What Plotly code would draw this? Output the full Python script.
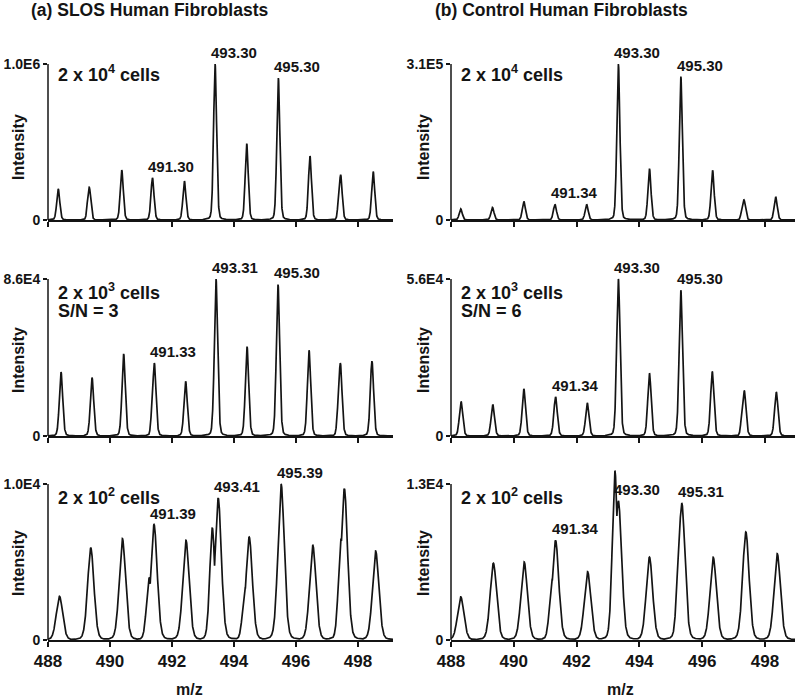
import numpy as np
import plotly.graph_objects as go

W, H = 800, 699

# ---------------- data ----------------
# peak centroids (m/z, as located on the drawn axis) and peak intensities
MZ_A1 = [488.33, 489.33, 490.38, 491.37, 492.40, 493.39, 494.41, 495.43, 496.45, 497.44, 498.49]
INT_A1 = [2.0e5, 2.1e5, 3.2e5, 2.7e5, 2.5e5, 1.0e6, 4.9e5, 9.1e5, 4.1e5, 2.9e5, 3.1e5]

MZ_A2 = [488.42, 489.42, 490.44, 491.43, 492.44, 493.42, 494.42, 495.42, 496.42, 497.43, 498.45]
INT_A2 = [3.5e4, 3.2e4, 4.5e4, 4.0e4, 3.0e4, 8.6e4, 4.9e4, 8.3e4, 4.7e4, 4.0e4, 4.1e4]

MZ_A3 = [488.37, 489.38, 490.40, 491.42, 492.45, 493.49, 494.49, 495.52, 496.54, 497.56, 498.57]
INT_A3 = [2.8e3, 5.9e3, 6.5e3, 7.4e3, 6.4e3, 9.1e3, 6.6e3, 1.0e4, 6.1e3, 9.7e3, 5.7e3]

MZ_B1 = [488.31, 489.32, 490.32, 491.31, 492.32, 493.33, 494.32, 495.32, 496.33, 497.33, 498.34]
INT_B1 = [2.2e4, 2.5e4, 3.7e4, 3.1e4, 3.1e4, 3.1e5, 1.02e5, 2.85e5, 9.9e4, 4.0e4, 4.6e4]

MZ_B2 = [488.32, 489.33, 490.32, 491.33, 492.34, 493.33, 494.32, 495.32, 496.32, 497.34, 498.36]
INT_B2 = [1.23e4, 1.12e4, 1.68e4, 1.40e4, 1.18e4, 5.6e4, 2.24e4, 5.2e4, 2.3e4, 1.62e4, 1.57e4]

MZ_B3 = [488.31, 489.35, 490.33, 491.33, 492.35, 493.33, 494.32, 495.35, 496.35, 497.39, 498.39]
INT_B3 = [3.6e3, 6.4e3, 6.5e3, 8.3e3, 5.7e3, 1.16e4, 6.9e3, 1.14e4, 6.9e3, 9.0e3, 7.2e3]

# secondary maxima / shoulders seen on some peaks (m/z, intensity)
SH_A1_MZ = [489.30, 497.40]
SH_A1_INT = [1.7e5, 2.5e5]
SH_A2_MZ = [491.37, 493.36, 494.37, 497.37]
SH_A2_INT = [1.9e4, 2.7e4, 1.3e4, 2.0e4]
SH_A3_MZ = [488.30, 491.26, 493.30, 494.36, 497.45]
SH_A3_INT = [1.6e3, 4.0e3, 7.2e3, 3.3e3, 6.5e3]
SH_B1_MZ = [497.28]
SH_B1_INT = [2.8e4]
SH_B2_MZ = [493.27, 497.28]
SH_B2_INT = [1.3e4, 1.0e4]
SH_B3_MZ = [491.22, 493.22, 493.38, 495.28, 494.25]
SH_B3_INT = [5.0e3, 1.41e4, 9.5e3, 8.5e3, 3.8e3]

TOPS_A = [1.0e6, 8.6e4, 1.0e4]
TOPS_B = [3.1e5, 5.6e4, 1.3e4]
TOP_TEXT_A = ["1.0E6", "8.6E4", "1.0E4"]
TOP_TEXT_B = ["3.1E5", "5.6E4", "1.3E4"]

LABEL_IDX = [3, 5, 7]
LABELS_A = [["491.30", "493.30", "495.30"], ["491.33", "493.31", "495.30"], ["491.39", "493.41", "495.39"]]
LABELS_B = [["491.34", "493.30", "495.30"], ["491.34", "493.30", "495.30"], ["491.34", "493.30", "495.31"]]

CELLS = ["4", "3", "2"]
SN_A = [None, "S/N = 3", None]
SN_B = [None, "S/N = 6", None]

X_TICKS = [488, 490, 492, 494, 496, 498]

# ---------------- layout geometry (pixels) ----------------
COL_X = [(48, 393, 31.0), (451, 795, 31.4)]  # left px, right px, px per m/z unit
ROW_Y = [(64, 220), (279, 436), (484, 640)]    # top-value px, zero px
EXT = 1.15
SIGMA = [0.05, 0.055, 0.105]

FONT = "Liberation Sans, Arial, sans-serif"
INK = "#141414"

panels = {
    (0, 0): (MZ_A1, INT_A1, SH_A1_MZ, SH_A1_INT),
    (1, 0): (MZ_A2, INT_A2, SH_A2_MZ, SH_A2_INT),
    (2, 0): (MZ_A3, INT_A3, SH_A3_MZ, SH_A3_INT),
    (0, 1): (MZ_B1, INT_B1, SH_B1_MZ, SH_B1_INT),
    (1, 1): (MZ_B2, INT_B2, SH_B2_MZ, SH_B2_INT),
    (2, 1): (MZ_B3, INT_B3, SH_B3_MZ, SH_B3_INT),
}

grid = np.arange(488.0, 499.2, 0.003)


def profile(centers, heights, s):
    y = np.zeros_like(grid)
    for c, h in zip(centers, heights):
        d = (grid - c) / s
        shape = 0.8 * np.exp(-0.5 * d ** 2) + 0.2 / (1 + d ** 2)
        y = np.maximum(y, h * shape)
    return y


def px(x):
    return x / W


def py(y):
    return 1 - y / H


fig = go.Figure()
layout = dict(
    width=W, height=H, margin=dict(l=0, r=0, t=0, b=0, autoexpand=False),
    paper_bgcolor="white", plot_bgcolor="white", showlegend=False,
)
shapes, annotations = [], []

for (r, c), (mz, inten, smz, sint) in panels.items():
    k = r * 2 + c + 1
    xs = "" if k == 1 else str(k)
    left, right, ppu = COL_X[c]
    ytop, yzero = ROW_Y[r]
    top = (TOPS_A if c == 0 else TOPS_B)[r]
    toptxt = (TOP_TEXT_A if c == 0 else TOP_TEXT_B)[r]
    s = SIGMA[r]
    ymain = profile(mz, inten, s)
    ysh = profile(smz, sint, s * 0.8)
    y = np.maximum(ymain, ysh)
    fig.add_trace(go.Scatter(x=grid, y=y, mode="lines", xaxis="x" + xs, yaxis="y" + xs,
                             line=dict(color=INK, width=1.7), hoverinfo="skip"))
    ext_top_px = yzero - (yzero - ytop) * EXT
    layout["xaxis" + xs] = dict(
        domain=[px(left), px(right)], anchor="y" + xs,
        range=[488, 488 + (right - left) / ppu],
        showline=True, linecolor=INK, linewidth=1.5, mirror=False,
        ticks="outside", ticklen=5, tickwidth=1.5, tickcolor=INK,
        tickvals=X_TICKS, showticklabels=(r == 2),
        tickfont=dict(family=FONT, size=17, color=INK, weight="bold"),
        showgrid=False, zeroline=False, fixedrange=True,
    )
    layout["yaxis" + xs] = dict(
        domain=[py(yzero), py(ext_top_px)], anchor="x" + xs,
        range=[0, top * EXT], showline=False,
        ticks="outside", ticklen=4, tickwidth=1.5, tickcolor=INK,
        tickvals=[0, top], ticktext=["0", toptxt],
        tickfont=dict(family=FONT, size=14, color=INK, weight="bold"),
        showgrid=False, zeroline=False, fixedrange=True,
    )
    shapes.append(dict(type="line", xref="x" + xs + " domain", yref="y" + xs,
                       x0=0, x1=0, y0=0, y1=top, line=dict(color=INK, width=1.5)))
    labels = (LABELS_A if c == 0 else LABELS_B)[r]
    for idx, lab in zip(LABEL_IDX, labels):
        annotations.append(dict(
            x=mz[idx], y=inten[idx], xref="x" + xs, yref="y" + xs,
            text=lab, showarrow=False, xanchor="left", yanchor="bottom",
            xshift=-6, yshift=1,
            font=dict(family=FONT, size=15, color=INK, weight="bold")))
    # cells text
    tx = left + 8
    cell_y = [73, 292, 496][r]
    annotations.append(dict(
        x=px(tx), y=py(cell_y), xref="paper", yref="paper",
        text="2 x 10<sup>%s</sup> cells" % CELLS[r], showarrow=False,
        xanchor="left", yanchor="middle",
        font=dict(family=FONT, size=18, color=INK, weight="bold")))
    sn = (SN_A if c == 0 else SN_B)[r]
    if sn:
        annotations.append(dict(
            x=px(tx), y=py(311), xref="paper", yref="paper", text=sn,
            showarrow=False, xanchor="left", yanchor="middle",
            font=dict(family=FONT, size=18, color=INK, weight="bold")))
    # Intensity label
    annotations.append(dict(
        x=px([18, 423][c]), y=py([147, 360, 563][r]), xref="paper", yref="paper",
        text="Intensity", textangle=-90, showarrow=False,
        xanchor="center", yanchor="middle",
        font=dict(family=FONT, size=16, color=INK, weight="bold")))

# titles and m/z labels
for tx, txt in [(29, "(a) SLOS Human Fibroblasts"), (433, "(b) Control Human Fibroblasts")]:
    annotations.append(dict(x=px(tx), y=py(10), xref="paper", yref="paper", text=txt,
                            showarrow=False, xanchor="left", yanchor="middle",
                            font=dict(family=FONT, size=17.5, color=INK, weight="bold")))
for tx in [189, 620]:
    annotations.append(dict(x=px(tx), y=py(689), xref="paper", yref="paper", text="m/z",
                            showarrow=False, xanchor="center", yanchor="middle",
                            font=dict(family=FONT, size=16, color=INK, weight="bold")))

layout["shapes"] = shapes
layout["annotations"] = annotations
fig.update_layout(**layout)
fig.write_html("out.html", config={"displayModeBar": False},
               post_script="document.body.style.margin='0';")
